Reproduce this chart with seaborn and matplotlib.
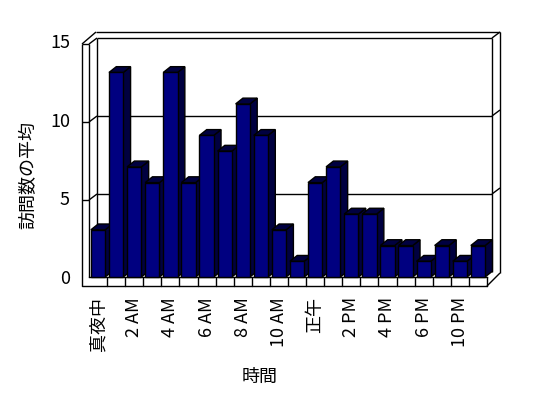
import matplotlib
matplotlib.use('Agg')
import numpy as np
import pandas as pd
import matplotlib.pyplot as plt
import seaborn as sns
from matplotlib.patches import Polygon

# データ
hours = ['真夜中', '1 AM', '2 AM', '3 AM', '4 AM', '5 AM', '6 AM', '7 AM', '8 AM', '9 AM',
         '10 AM', '11 AM', '正午', '1 PM', '2 PM', '3 PM', '4 PM', '5 PM', '6 PM', '7 PM',
         '10 PM', '11 PM']
visits = [3, 13, 7, 6, 13, 6, 9, 8, 11, 9, 3, 1, 6, 7, 4, 4, 2, 2, 1, 2, 1, 2]
yticks = [0, 5, 10, 15]

sns.set_style('white')
plt.rcParams['font.family'] = ['Noto Sans CJK JP', 'DejaVu Sans']
plt.rcParams['text.color'] = 'black'
plt.rcParams['axes.labelcolor'] = 'black'
plt.rcParams['xtick.color'] = 'black'
plt.rcParams['ytick.color'] = 'black'

W, H = 548, 398
fig = plt.figure(figsize=(W / 100, H / 100), dpi=100)


def box(l, t, r, b):
    return [l / W, (H - b) / H, (r - l) / W, (b - t) / H]


# 3D風の枠（壁・床）を描くための下敷き
frame = fig.add_axes([0, 0, 1, 1])
frame.set_xlim(0, W)
frame.set_ylim(H, 0)
frame.axis('off')
frame.set_zorder(0)

ax = fig.add_axes(box(89, 41, 487, 277))
ax.set_zorder(1)
ax.patch.set_visible(False)

df = pd.DataFrame({'時間': hours, '訪問数の平均': visits})
sns.barplot(data=df, x='時間', y='訪問数の平均', color='#000080', saturation=1,
            width=0.79, edgecolor='black', linewidth=1, ax=ax)
ax.set_xlim(-0.5, 21.5)
ax.set_ylim(0, 15)

# 棒の奥行き（側面と上面）
dx = 7.3 / (398 / 22)
dy = 5.8 / (236 / 15)
bars = list(ax.patches)
for i, p in enumerate(bars):
    x0, w, h = p.get_x(), p.get_width(), p.get_height()
    p.set_zorder(3 + 2 * i)
    p.set_clip_on(False)
    side = Polygon([(x0 + w, 0), (x0 + w, h), (x0 + w + dx, h + dy), (x0 + w + dx, dy)],
                   closed=True, fc='#000040', ec='black', lw=1, zorder=2 + 2 * i, clip_on=False)
    top = Polygon([(x0, h), (x0 + dx, h + dy), (x0 + w + dx, h + dy), (x0 + w, h)],
                  closed=True, fc='#000040', ec='black', lw=1, zorder=2 + 2 * i, clip_on=False)
    ax.add_patch(side)
    ax.add_patch(top)

# 床（目盛りのセル）
tr = ax.get_xaxis_transform()
fy = -9 / 236
for b in np.arange(0.5, len(hours), 1):
    ax.plot([b, b], [0, fy], transform=tr, color='black', lw=1, clip_on=False)
ax.plot([-0.5 - 7 / 18.1, len(hours) - 0.5], [fy, fy], transform=tr, color='black', lw=1, clip_on=False)

for s in ['top', 'right', 'left']:
    ax.spines[s].set_visible(False)
ax.spines['bottom'].set_color('black')
ax.spines['bottom'].set_linewidth(1)

# 奥の壁・左の壁
kw = dict(color='black', lw=1, solid_capstyle='butt')
for v in yticks[1:]:
    yb = 272 - v * 15.6
    frame.plot([97, 492], [yb, yb], **kw)
    frame.plot([89, 97], [yb + 6, yb], **kw)
    frame.plot([82, 89], [yb + 6, yb + 6], **kw)
    frame.plot([492, 500], [yb, yb - 6], **kw)
frame.plot([96, 500], [32, 32], **kw)
frame.plot([82, 96], [44, 32], **kw)
frame.plot([82, 82], [44, 286], **kw)
frame.plot([89, 89], [44, 277], **kw)
frame.plot([97, 97], [38, 277], **kw)
frame.plot([492, 492], [38, 272], **kw)
frame.plot([500, 500], [32, 273], **kw)
frame.plot([487, 500], [286, 273], **kw)

# 目盛りとラベル
ax.set_yticks(yticks)
ax.set_yticklabels([str(v) for v in yticks])
ax.set_xticks(range(0, len(hours), 2))
ax.set_xticklabels(hours[::2], rotation=90)
ax.tick_params(axis='x', length=0, pad=14.4, labelsize=13)
ax.tick_params(axis='y', length=0, pad=13.7, labelsize=13)

ax.set_xlabel('時間', fontsize=13, va='center')
ax.xaxis.set_label_coords((259.5 - 89) / 398, (277 - 377) / 236)
ax.set_ylabel('訪問数の平均', fontsize=13, va='center')
ax.yaxis.set_label_coords((28 - 89) / 398, (277 - 175) / 236)

fig.savefig('out.png', dpi=100)
